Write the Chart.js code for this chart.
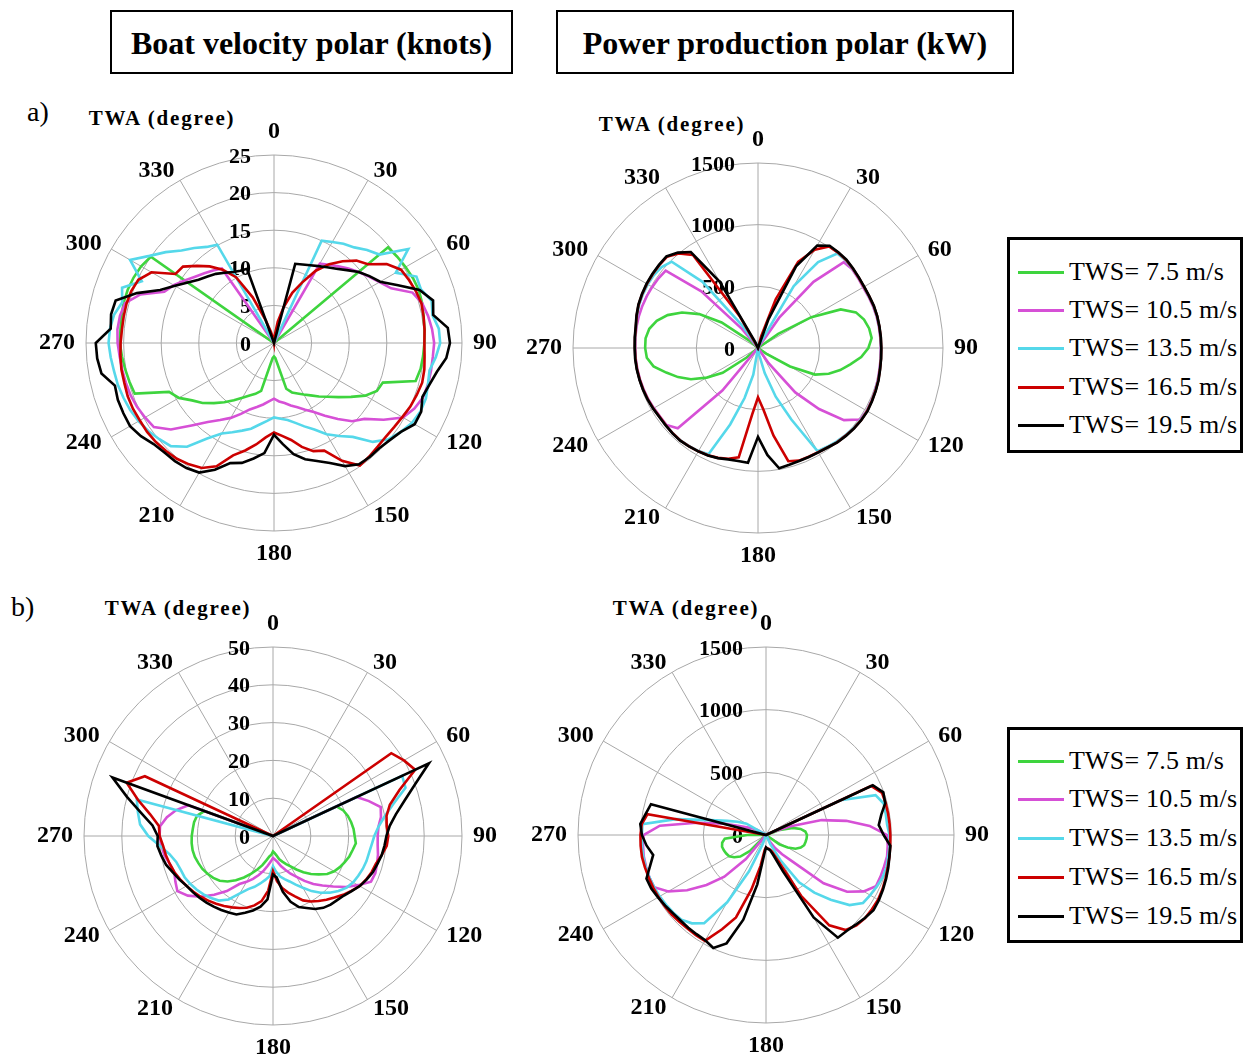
<!DOCTYPE html>
<html><head><meta charset="utf-8">
<script src="https://cdn.jsdelivr.net/npm/chart.js@4.4.1/dist/chart.umd.min.js"></script>
<style>
html,body{margin:0;padding:0;background:#fff;}
body{width:1249px;height:1057px;position:relative;overflow:hidden;font-family:"Liberation Serif","Times New Roman",serif;color:#000;}
canvas{position:absolute;}
.hdr{position:absolute;top:10px;height:60px;border:2px solid #000;display:flex;align-items:center;justify-content:center;font-weight:bold;font-size:32px;padding-top:2px;box-sizing:content-box;}
.twa{position:absolute;transform:translate(-50%,-50%);font-weight:bold;font-size:21px;letter-spacing:1.8px;white-space:nowrap;}
.tag{position:absolute;font-size:28px;line-height:32px;}
.legend{position:absolute;border:3px solid #000;box-sizing:border-box;width:236px;height:216px;background:#fff;}
.row{position:absolute;left:8px;height:30px;display:flex;align-items:center;font-size:26px;letter-spacing:0.2px;white-space:nowrap;}
.row i{display:inline-block;width:46px;height:3px;margin-right:5px;}
</style></head><body>
<div class="hdr" style="left:110px;width:399px;height:58px;">Boat velocity polar (knots)</div>
<div class="hdr" style="left:556px;width:454px;height:58px;">Power production polar (kW)</div>
<div class="tag" style="left:27px;top:96px;">a)</div>
<div class="tag" style="left:11px;top:591px;">b)</div>
<div class="twa" style="left:162px;top:118px;">TWA (degree)</div>
<div class="twa" style="left:672px;top:124px;">TWA (degree)</div>
<div class="twa" style="left:178px;top:608px;">TWA (degree)</div>
<div class="twa" style="left:686px;top:608px;">TWA (degree)</div>
<div id="leg1" class="legend" style="left:1007px;top:237px;"></div>
<div id="leg2" class="legend" style="left:1007px;top:727px;"></div>
<script>
// ---- categories (true wind angle, degrees) ----
const twaDeg = [0,5,10,15,20,25,30,35,40,45,50,55,60,65,70,75,80,85,90,95,100,105,110,115,
 120,125,130,135,140,145,150,155,160,165,170,175,180,185,190,195,200,205,210,215,220,225,230,235,
 240,245,250,255,260,265,270,275,280,285,290,295,300,305,310,315,320,325,330,335,340,345,350,355];
const angleTickLabels = ['0','30','60','90','120','150','180','210','240','270','300','330'];
const seriesNames = ['TWS= 7.5 m/s','TWS= 10.5 m/s','TWS= 13.5 m/s','TWS= 16.5 m/s','TWS= 19.5 m/s'];
const velTicksA = ['0','5','10','15','20','25'];
const velTicksB = ['0','10','20','30','40','50'];
const powTicks = ['0','500','1000','1500'];

// ---- a) boat velocity (knots) ----
const velA_7_5 = [0,0,0,0,0,0,0,0,0,0,19.8,20.0,
 20.2,20.4,20.5,20.4,20.2,20.1,20.0,19.9,19.8,19.5,15.4,15.1,
 14.0,12.5,11.2,10.1,9.3,8.5,7.9,7.4,7.0,6.3,3.0,2.0,
 1.8,2.0,3.0,6.6,7.2,7.7,8.4,9.3,10.3,11.3,12.4,13.3,
 14.6,15.4,19.7,19.9,20.1,20.3,20.5,20.5,20.6,20.7,20.7,20.6,
 20.4,20.0,0,0,0,0,0,0,0,0,0,0];
const velA_10_5 = [0,0,0,0,0,0,12.2,12.7,13.3,14.0,14.7,15.4,
 16.2,17.2,19.6,20.4,20.8,21.1,21.3,21.2,21.2,21.2,21.1,20.6,
 19.8,17.8,15.7,14.7,13.2,11.8,10.6,9.8,9.1,8.6,8.1,7.8,
 7.4,7.8,8.3,8.8,9.4,10.4,11.5,12.5,13.7,15.5,17.9,19.5,
 19.8,20.1,20.3,20.4,20.5,20.6,20.8,20.9,20.8,20.5,18.9,16.1,
 15.4,14.5,13.7,13.1,12.6,12.1,0,0,0,0,0,0];
const velA_13_5 = [0,0,0,0,0,15.0,15.5,16.1,16.6,17.5,18.3,21.8,
 18.7,20.9,20.8,21.7,21.4,22.0,22.1,21.6,21.0,21.2,21.5,21.5,
 21.2,20.6,19.9,18.6,16.3,15.1,14.0,12.7,11.8,11.0,10.4,10.1,
 9.9,10.4,11.0,11.8,12.4,13.1,13.9,15.5,18.0,19.4,19.9,20.4,
 20.8,21.1,21.3,21.5,21.6,21.8,22.0,21.9,21.6,20.9,21.5,19.4,
 22.1,20.2,18.8,17.4,16.5,15.6,15.1,0,0,0,0,0];
const velA_16_5 = [0,1.0,2.9,4.9,7.1,8.9,11.1,12.8,14.2,15.5,16.3,18.3,
 19.5,19.8,20.1,20.3,20.2,20.1,20.0,20.1,20.3,20.4,20.2,20.0,
 19.7,19.5,19.4,19.5,19.7,19.9,18.1,15.8,15.3,14.3,13.1,12.4,
 11.9,12.6,13.7,14.8,15.9,18.1,19.2,19.7,20.1,20.3,20.5,20.6,
 20.6,20.7,20.7,20.6,20.6,20.5,20.4,20.3,20.3,20.3,20.2,19.9,
 18.8,16.0,15.8,14.5,13.3,11.9,10.1,6.7,3.2,1.5,0.5,0];
const velA_19_5 = [0,0,0,10.9,11.1,11.4,11.8,12.3,12.9,13.7,14.7,15.5,
 16.3,18.2,20.6,21.9,21.5,23.2,23.4,23.0,22.0,21.4,21.0,21.6,
 21.6,20.6,20.1,19.8,19.8,19.7,18.9,17.6,16.7,16.0,15.0,13.5,
 12.2,14.7,15.6,16.5,17.0,18.6,19.9,20.3,20.5,20.6,20.9,21.6,
 22.1,22.1,22.1,21.9,23.3,23.6,23.7,21.8,22.0,21.8,19.4,16.7,
 15.2,14.0,13.1,12.5,12.0,11.4,10.9,10.6,10.5,0,0,0];

// ---- a) power production (kW) ----
const powA_7_5 = [0,0,0,0,0,0,0,0,0,0,0,200,
 500,740,845,890,915,925,895,840,760,690,610,510,
 300,80,0,0,0,0,0,0,0,0,0,0,
 0,0,0,0,0,0,0,0,0,0,120,350,
 480,600,690,770,860,905,915,915,895,850,780,680,
 550,360,100,0,0,0,0,0,0,0,0,0];
const powA_10_5 = [0,0,0,0,0,0,0,300,700,984,995,990,
 985,988,992,995,995,995,995,998,1000,1005,1010,1015,
 1018,1010,910,700,470,150,0,0,0,0,0,0,
 0,0,0,0,0,0,0,0,450,920,970,970,
 975,982,986,990,993,995,995,998,1000,1000,998,995,
 990,985,977,650,200,0,0,0,0,0,0,0];
const powA_13_5 = [0,0,0,0,0,50,580,850,1000,1005,1000,995,
 990,992,996,998,998,998,998,1000,1003,1008,1012,1016,
 1020,1016,1010,1000,990,978,965,640,420,210,60,0,
 0,0,220,420,660,950,965,972,978,977,975,975,
 980,986,990,993,996,998,998,1000,1004,1015,1025,1030,
 1032,1030,1020,990,700,220,0,0,0,0,0,0];
const powA_16_5 = [0,0,0,100,420,770,920,1005,1010,1010,1003,996,
 992,994,998,1000,999,999,999,1001,1004,1010,1014,1018,
 1022,1020,1014,1005,998,983,976,973,972,950,720,500,
 400,540,900,930,948,960,967,973,979,978,975,974,
 980,986,990,993,996,998,998,1001,1005,1018,1030,1036,
 1040,1043,1045,1045,1000,920,300,0,0,0,0,0];
const powA_19_5 = [0,0,0,0,250,730,960,1012,1013,1014,1005,998,
 994,995,1000,1001,1000,1000,1000,1002,1005,1012,1016,1020,
 1025,1022,1016,1008,1000,985,978,975,975,980,990,870,
 720,934,930,935,950,961,968,975,981,980,977,976,
 982,988,992,995,998,1000,1000,1003,1007,1020,1032,1038,
 1043,1046,1048,1050,1010,950,620,50,0,0,0,0];

// ---- b) boat velocity (knots) ----
const velB_7_5 = [0,0,0,0,0,0,0,0,0,0,0,0,
 0,18.5,19.8,20.5,21.0,21.4,21.6,22.0,21.4,20.9,20.2,19.5,
 18.7,17.5,15.8,14.2,12.5,10.8,9.3,8.2,7.2,6.4,5.2,4.5,
 4.1,5.0,5.5,6.6,8.2,9.8,11.5,13.4,15.3,17.0,18.4,19.3,
 20.0,20.6,21.0,21.4,21.6,21.6,21.5,21.3,21.2,20.8,19.3,0,
 0,0,0,0,0,0,0,0,0,0,0,0];
const velB_10_5 = [0,0,0,0,0,0,0,0,0,0,0,0,
 0,24.4,27.0,29.5,29.0,28.0,27.7,27.8,28.2,28.5,28.8,28.6,
 26.0,23.5,20.8,18.5,16.6,14.5,12.5,11.0,9.5,8.3,7.0,6.3,
 5.8,6.8,8.0,9.5,11.0,12.5,14.0,15.5,19.0,22.0,25.0,27.5,
 29.2,28.5,27.8,28.3,29.2,29.6,30.0,30.0,28.5,26.5,23.8,0,
 0,0,0,0,0,0,0,0,0,0,0,0];
const velB_13_5 = [0,0,0,0,0,0,0,0,0,0,0,0,
 0,37.7,37.3,33.0,30.0,28.0,26.8,26.2,25.8,25.6,25.3,24.9,
 24.5,23.8,22.6,21.2,19.6,17.8,15.8,14.2,12.8,11.8,10.9,9.5,
 8.0,10.7,11.8,13.0,14.3,15.5,17.5,20.5,22.3,23.2,24.0,24.7,
 25.3,25.8,26.0,26.5,27.8,30.0,33.0,35.3,36.3,37.3,0,0,
 0,0,0,0,0,0,0,0,0,0,0,0];
const velB_16_5 = [0,0,0,0,0,0,0,0,0,0,0,38.2,
 40.0,41.5,35.6,32.0,30.5,30.2,30.5,30.2,29.2,28.2,27.8,27.2,
 26.5,25.3,24.2,23.0,22.0,21.0,20.0,18.8,17.0,15.5,14.0,12.0,
 9.3,14.5,17.5,19.0,20.2,21.0,21.8,22.6,23.4,24.2,25.0,25.7,
 26.4,27.1,27.8,28.3,28.8,29.2,30.0,30.3,33.0,37.0,41.2,37.4,
 0,0,0,0,0,0,0,0,0,0,0,0];
const velB_19_5 = [0,0,0,0,0,0,0,0,0,0,0,0,
 0,45.5,40.0,36.0,33.0,31.0,30.0,29.6,29.2,28.6,28.1,27.3,
 26.5,25.4,24.5,24.0,23.7,23.2,22.3,21.0,20.0,18.0,15.0,11.0,
 10.2,16.8,19.0,20.4,21.6,22.9,23.4,23.9,24.4,24.9,25.4,25.9,
 26.4,27.3,28.2,29.3,30.0,30.7,30.5,32.0,35.5,40.0,45.2,0,
 0,0,0,0,0,0,0,0,0,0,0,0];

// ---- b) power production (kW) ----
const powB_7_5 = [0,0,0,0,0,0,0,0,0,0,0,0,
 0,0,120,220,280,315,327,325,320,315,295,260,
 200,130,0,0,0,0,0,0,0,0,0,0,
 0,0,0,0,0,0,0,0,0,180,268,310,
 340,350,358,363,355,330,150,0,0,0,0,0,
 0,0,0,0,0,0,0,0,0,0,0,0];
const powB_10_5 = [0,0,0,0,0,0,0,0,0,0,0,0,
 0,50,200,460,650,830,966,975,981,975,972,968,
 900,790,600,300,200,130,60,0,0,0,0,0,
 0,0,0,0,0,0,0,0,250,470,620,769,
 900,985,990,990,990,985,977,850,560,350,200,130,
 80,0,0,0,0,0,0,0,0,0,0,0];
const powB_13_5 = [0,0,0,0,0,0,0,0,0,0,0,0,
 0,655,930,972,970,970,985,990,990,995,990,975,
 960,945,870,730,600,460,235,80,0,0,0,0,
 0,0,0,0,80,320,620,860,920,955,965,972,
 980,985,990,993,995,993,990,990,730,460,330,250,
 180,0,0,0,0,0,0,0,0,0,0,0];
const powB_16_5 = [0,0,0,0,0,0,0,0,0,0,0,0,
 0,925,985,988,989,990,992,995,1000,1005,1015,1025,
 1032,1032,1032,1020,990,880,560,220,140,120,110,105,
 100,120,250,450,700,830,975,975,975,978,985,988,
 990,993,995,1000,1005,1004,1002,995,960,0,0,0,
 0,0,0,0,0,0,0,0,0,0,0,0];
const powB_19_5 = [0,0,0,0,0,0,0,0,0,0,0,0,
 0,940,996,985,934,903,939,996,1000,1010,1020,1030,
 1040,1047,1030,1012,1000,1000,760,320,170,125,115,110,
 100,150,400,700,920,995,970,966,965,964,970,982,
 995,1010,1015,958,914,957,990,1007,975,950,0,0,
 0,0,0,0,0,0,0,0,0,0,0,0];

// ---- styles ----
const colors = ['#3ed43e','#d650d6','#55d8ea','#cc0000','#000000'];
const GRID = '#a8a8a8';
const FONT = '"Liberation Serif","Times New Roman",serif';

const textPlugin = {
  id: 'polarText',
  beforeDatasetsDraw(chart) {
    const s = chart.scales.r;
    const ctx = chart.ctx;
    const tl = chart.options.plugins.polarText.tickLabels;
    ctx.save();
    ctx.fillStyle = '#000';
    ctx.font = 'bold 22px ' + FONT;
    ctx.textAlign = 'right';
    ctx.textBaseline = 'middle';
    s.ticks.forEach((t, i) => {
      const d = s.getDistanceFromCenterForValue(t.value);
      ctx.fillText(tl[i], s.xCenter - 23, s.yCenter - d + 2);
    });
    ctx.font = 'bold 24px ' + FONT;
    chart.data.labels.forEach((lab, i) => {
      if (!angleTickLabels.includes(String(lab))) return;
      const a = twaDeg[i];
      const p = s.getPointPosition(i, s.drawingArea + 11);
      ctx.textAlign = (a === 0 || a === 180) ? 'center' : (a < 180 ? 'left' : 'right');
      ctx.textBaseline = a === 0 ? 'bottom' : (a === 180 ? 'top' : 'middle');
      ctx.fillText(String(lab), p.x, p.y);
    });
    ctx.restore();
  }
};

const panels = [
  {cx:274, cy:343, R:188, max:25, step:5, ticks:velTicksA, data:[velA_7_5,velA_10_5,velA_13_5,velA_16_5,velA_19_5]},
  {cx:758, cy:348, R:185, max:1500, step:500, ticks:powTicks, data:[powA_7_5,powA_10_5,powA_13_5,powA_16_5,powA_19_5]},
  {cx:273, cy:836, R:189, max:50, step:10, ticks:velTicksB, data:[velB_7_5,velB_10_5,velB_13_5,velB_16_5,velB_19_5]},
  {cx:766, cy:835, R:188, max:1500, step:500, ticks:powTicks, data:[powB_7_5,powB_10_5,powB_13_5,powB_16_5,powB_19_5]}
];

panels.forEach(p => {
  const P = 55;
  const size = 2 * p.R + 2 * P;
  const cv = document.createElement('canvas');
  cv.width = size; cv.height = size;
  cv.style.width = size + 'px'; cv.style.height = size + 'px';
  cv.style.left = (p.cx - p.R - P) + 'px';
  cv.style.top = (p.cy - p.R - P) + 'px';
  document.body.appendChild(cv);
  new Chart(cv, {
    type: 'radar',
    data: {
      labels: twaDeg,
      datasets: p.data.map((d, k) => ({
        label: seriesNames[k], data: d,
        borderColor: colors[k], backgroundColor: colors[k],
        borderWidth: 2.6, pointRadius: 0, pointHoverRadius: 0,
        fill: false, tension: 0, spanGaps: true, order: 5 - k
      }))
    },
    options: {
      responsive: false, animation: false, devicePixelRatio: 1,
      layout: {padding: P},
      plugins: {legend: {display: false}, tooltip: {enabled: false}, polarText: {tickLabels: p.ticks}},
      scales: {
        r: {
          min: 0, max: p.max,
          ticks: {stepSize: p.step, display: false},
          grid: {circular: true, color: GRID, lineWidth: 1},
          angleLines: {
            display: true,
            color: c => (c.index % 6 === 0 ? GRID : 'rgba(0,0,0,0)'),
            lineWidth: c => (c.index % 6 === 0 ? 1 : 0)
          },
          pointLabels: {display: false}
        }
      }
    },
    plugins: [textPlugin]
  });
});

// legends
const rowsY1 = [35, 73, 111, 150, 188];
const rowsY2 = [34, 72, 111, 150, 189];
[['leg1', rowsY1], ['leg2', rowsY2]].forEach(([id, ys]) => {
  const box = document.getElementById(id);
  seriesNames.forEach((n, k) => {
    const r = document.createElement('div');
    r.className = 'row';
    r.style.top = (ys[k] - 3 - 15) + 'px';
    r.innerHTML = '<i style="background:' + colors[k] + '"></i><span>' + n + '</span>';
    box.appendChild(r);
  });
});
</script>
</body></html>
